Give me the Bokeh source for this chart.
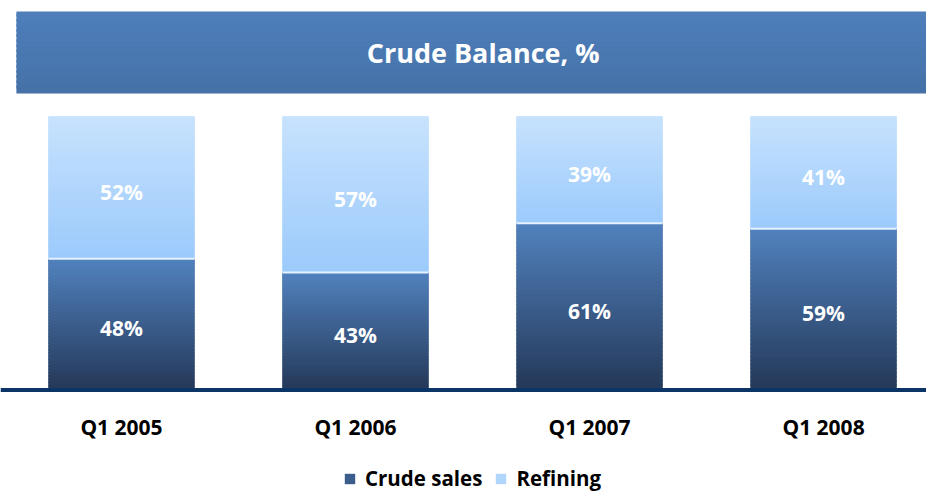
from bokeh.plotting import figure
from bokeh.models import Range1d, Legend, LegendItem, Span
from bokeh.core.properties import value
from bokeh.embed import file_html
from bokeh.resources import INLINE

# ---- data ----
categories = ["Q1 2005", "Q1 2006", "Q1 2007", "Q1 2008"]
crude_sales = [48, 43, 61, 59]
refining = [52, 57, 39, 41]
series_names = ["Crude sales", "Refining"]
title_text = "Crude Balance, %"

FONT = value("Open Sans")
DARK_TOP, DARK_BOT = "#5182be", "#243858"
LIGHT_TOP, LIGHT_BOT = "#c7e2fd", "#9bcafc"
BAN_TOP, BAN_BOT = "#4e7fbb", "#4571a7"


def hx(c):
    c = c.lstrip("#")
    return tuple(int(c[i:i + 2], 16) for i in (0, 2, 4))


def lerp(c1, c2, t):
    a, b = hx(c1), hx(c2)
    return "#%02x%02x%02x" % tuple(round(a[i] + (b[i] - a[i]) * t) for i in range(3))


xs = list(range(len(categories)))
BAR_W = 0.624
X0, X1 = -0.517, 3.440
Y0, Y1 = -38.57, 142.41

p = figure(width=926, height=495, output_backend="svg", toolbar_location=None,
           x_range=Range1d(X0, X1), y_range=Range1d(Y0, Y1),
           x_axis_location=None, y_axis_location=None, min_border=0)
p.outline_line_color = None
p.xgrid.visible = False
p.ygrid.visible = False
p.background_fill_color = "white"
p.border_fill_color = "white"

# banner (decoration) as vertical gradient bands (overlapping to avoid seams)
NB = 16
b_lo, b_hi = 108.4, 138.4
bb, bt, bc = [], [], []
step = (b_hi - b_lo) / NB
for k in range(NB):
    bb.append(b_lo + step * k)
    bt.append(min(b_hi, b_lo + step * (k + 1) + step * 0.6))
    bc.append(lerp(BAN_BOT, BAN_TOP, (k + 0.5) / NB))
p.quad(left=X0 + 0.068, right=X1, bottom=bb, top=bt, fill_color=bc, line_color=None)
p.text(x=[(X0 + 0.068 + X1) / 2 + 0.05], y=[(b_lo + b_hi) / 2], text=[title_text],
       text_color="white", text_font=FONT, text_font_style="bold", text_font_size="27px",
       text_align="center", text_baseline="middle")

# solid stack (for legend), covered by gradient bands
src = {"x": xs, "Crude sales": crude_sales, "Refining": refining}
rs = p.vbar_stack(series_names, x="x", width=BAR_W, source=src,
                  fill_color=["#3a5d8c", "#b0d6fc"], line_color=None)

# gradient bands (overlapping slightly to avoid seams)
N = 40
gx, gb, gt, gc = [], [], [], []
for i, (c, r) in enumerate(zip(crude_sales, refining)):
    for k in range(N):
        gx.append(xs[i]); gb.append(c * k / N); gt.append(min(c, c * (k + 1.6) / N))
        gc.append(lerp(DARK_BOT, DARK_TOP, (k + 0.5) / N))
    for k in range(N):
        gx.append(xs[i]); gb.append(c + r * k / N); gt.append(min(c + r, c + r * (k + 1.6) / N))
        gc.append(lerp(LIGHT_BOT, LIGHT_TOP, (k + 0.5) / N))
p.vbar(x=gx, bottom=gb, top=gt, width=BAR_W, fill_color=gc, line_color=None)

# separator between stacks
p.segment(x0=[x - BAR_W / 2 for x in xs], x1=[x + BAR_W / 2 for x in xs],
          y0=crude_sales, y1=crude_sales, line_color="#e4f1ff", line_width=2)

# value labels
lx = xs + xs
ly = [c / 2 - 1.5 for c in crude_sales] + [c + r / 2 - 1.5 for c, r in zip(crude_sales, refining)]
lt = [f"{v}%" for v in crude_sales] + [f"{v}%" for v in refining]
p.text(x=lx, y=ly, text=lt, text_color="white", text_font=FONT, text_font_style="bold",
       text_font_size="21px", text_align="center", text_baseline="middle")

# baseline (axis line)
p.add_layout(Span(location=0, dimension="width", line_color="#0b3566", line_width=4))

# category labels
p.text(x=xs, y=[-13.7] * len(xs), text=categories, text_color="#000000", text_font=FONT,
       text_font_style="bold", text_font_size="21px", text_align="center",
       text_baseline="middle")

legend = Legend(items=[LegendItem(label=series_names[0], renderers=[rs[0]]),
                       LegendItem(label=series_names[1], renderers=[rs[1]])],
                orientation="horizontal", location=(343, 3),
                label_text_font="Open Sans", label_text_font_style="bold",
                label_text_font_size="20.5px", label_text_color="#000000",
                glyph_width=13, glyph_height=13, spacing=12, label_standoff=9,
                border_line_color=None, background_fill_alpha=0, padding=0, margin=0)
p.add_layout(legend)

open("out.html", "w").write(file_html(p, INLINE))
